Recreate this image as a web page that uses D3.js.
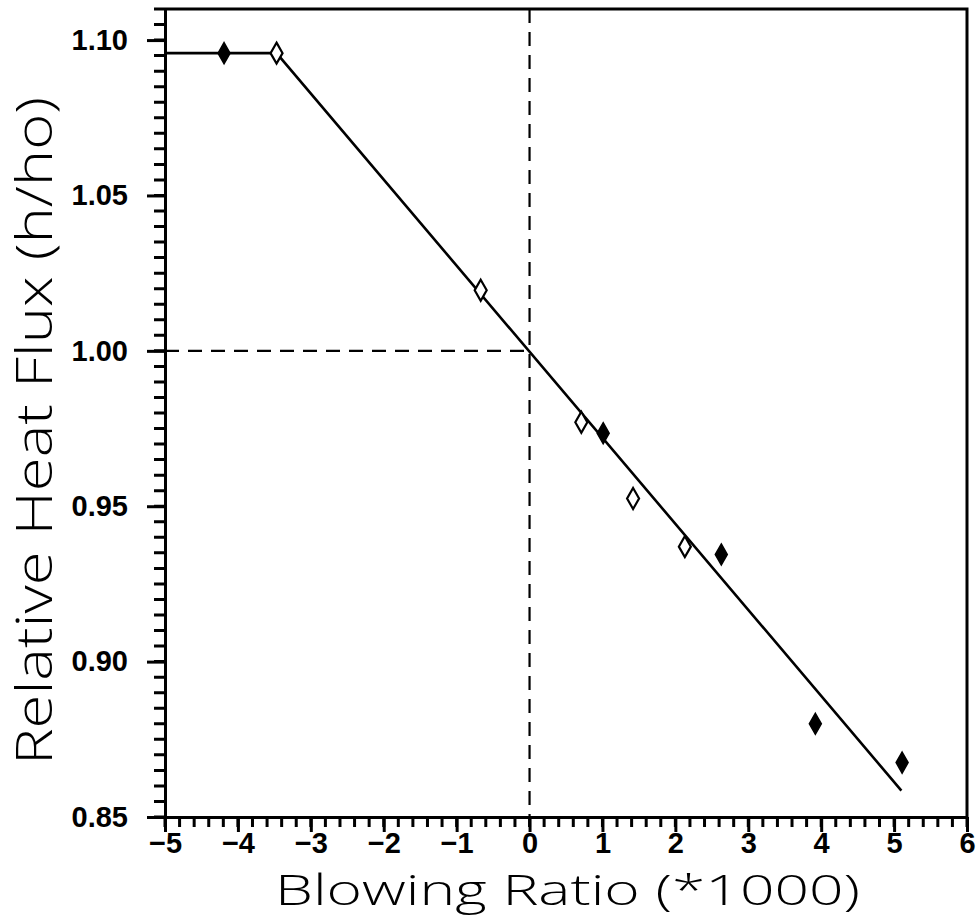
<!DOCTYPE html>
<html>
<head>
<meta charset="utf-8">
<script src="https://cdn.jsdelivr.net/npm/d3@7"></script>
<style>
  body { margin: 0; background: #fff; }
  svg { display: block; }
</style>
</head>
<body>
<div id="chart"></div>
<script>
// values
const filledX = [-4.19, 1.01, 2.63, 3.92, 5.11];
const filledY = [1.0958, 0.9735, 0.9345, 0.880, 0.8675];
const openX = [-3.47, -0.67, 0.71, 1.42, 2.13];
const openY = [1.0958, 1.0195, 0.977, 0.9525, 0.937];
const fitX = [-5, -3.47, 5.1];
const fitY = [1.0958, 1.0958, 0.8585];
const xTicks = [-5, -4, -3, -2, -1, 0, 1, 2, 3, 4, 5, 6];
const yTicks = [0.85, 0.90, 0.95, 1.00, 1.05, 1.10];

const width = 977;
const height = 919;

const svg = d3.select("#chart").append("svg").attr("width", width).attr("height", height);

const x = d3.scaleLinear().domain([-5, 6]).range([165, 967]);
const y = d3.scaleLinear().domain([0.85, 1.11]).range([817, 9]);

const tickFont = "'Liberation Sans', Arial, sans-serif";
const titleFont = "'Open Sans', 'Liberation Sans', sans-serif";

// minor ticks: every 0.2 on x, every 0.005 on y
const xMinor = d3.range(0, 56).map((i) => -5 + i * 0.2);
const yMinor = d3.range(0, 53).map((i) => 0.85 + i * 0.005);

const minorPath = d3.path();
xMinor.forEach((d) => {
  minorPath.moveTo(x(d), y(0.85));
  minorPath.lineTo(x(d), y(0.85) + 10);
});
yMinor.forEach((d) => {
  minorPath.moveTo(x(-5), y(d));
  minorPath.lineTo(x(-5) - 11, y(d));
});
svg.append("path")
  .attr("d", minorPath.toString())
  .attr("fill", "none").attr("stroke", "#000").attr("stroke-width", 3);

// major ticks with labels
const xAxis = svg.append("g")
  .attr("transform", `translate(0,${y(0.85)})`)
  .call(d3.axisBottom(x).tickValues(xTicks).tickSize(15).tickSizeOuter(0).tickPadding(0)
    .tickFormat((d) => (d < 0 ? "\u2212" + Math.abs(d) : d)));
xAxis.select(".domain").attr("stroke-width", 3);
xAxis.selectAll("line").attr("stroke-width", 3);
xAxis.selectAll("text")
  .attr("font-family", tickFont).attr("font-size", 29).attr("font-weight", "bold")
  .attr("fill", "#000");

const yAxis = svg.append("g")
  .attr("transform", `translate(${x(-5)},0)`)
  .call(d3.axisLeft(y).tickValues(yTicks).tickSize(18).tickSizeOuter(0).tickPadding(19)
    .tickFormat(d3.format(".2f")));
yAxis.select(".domain").attr("stroke-width", 3);
yAxis.selectAll("line").attr("stroke-width", 3);
yAxis.selectAll("text")
  .attr("font-family", tickFont).attr("font-size", 29).attr("font-weight", "bold")
  .attr("fill", "#000");

// frame top and right
svg.append("path")
  .attr("d", `M${x(-5)},${y(1.11)}H${x(6)}V${y(0.85)}`)
  .attr("fill", "none").attr("stroke", "#000").attr("stroke-width", 3);

// dashed reference lines
svg.append("line")
  .attr("x1", x(0)).attr("x2", x(0)).attr("y1", y(1.11)).attr("y2", y(0.85))
  .attr("stroke", "#000").attr("stroke-width", 2.2).attr("stroke-dasharray", "14,9");
svg.append("line")
  .attr("x1", x(-5)).attr("x2", x(0)).attr("y1", y(1.0)).attr("y2", y(1.0))
  .attr("stroke", "#000").attr("stroke-width", 2.2).attr("stroke-dasharray", "14,9");

// fitted line
const fit = fitX.map((d, i) => [d, fitY[i]]);
svg.append("path")
  .datum(fit)
  .attr("d", d3.line().x((d) => x(d[0])).y((d) => y(d[1])))
  .attr("fill", "none").attr("stroke", "#000").attr("stroke-width", 2.6);

// diamonds
const diamond = "M0,-10.5L6,0L0,10.5L-6,0Z";

svg.append("g")
  .selectAll("path")
  .data(openX.map((d, i) => [d, openY[i]]))
  .enter()
  .append("path")
  .attr("d", diamond)
  .attr("transform", (d) => `translate(${x(d[0])},${y(d[1])})`)
  .attr("fill", "#fff").attr("stroke", "#000").attr("stroke-width", 2.2);

svg.append("g")
  .selectAll("path")
  .data(filledX.map((d, i) => [d, filledY[i]]))
  .enter()
  .append("path")
  .attr("d", diamond)
  .attr("transform", (d) => `translate(${x(d[0])},${y(d[1])})`)
  .attr("fill", "#000").attr("stroke", "#000").attr("stroke-width", 1.5);

// axis titles
svg.append("text")
  .attr("x", 275).attr("y", 905)
  .attr("font-family", titleFont).attr("font-size", 42).attr("font-weight", 300)
  .attr("textLength", 585).attr("lengthAdjust", "spacingAndGlyphs")
  .attr("fill", "#000")
  .text("Blowing  Ratio  (*1000)");

svg.append("text")
  .attr("transform", "translate(52,765) rotate(-90)")
  .attr("font-family", titleFont).attr("font-size", 50).attr("font-weight", 300)
  .attr("textLength", 668).attr("lengthAdjust", "spacingAndGlyphs")
  .attr("fill", "#000")
  .text("Relative  Heat  Flux  (h/ho)");
</script>
</body>
</html>
